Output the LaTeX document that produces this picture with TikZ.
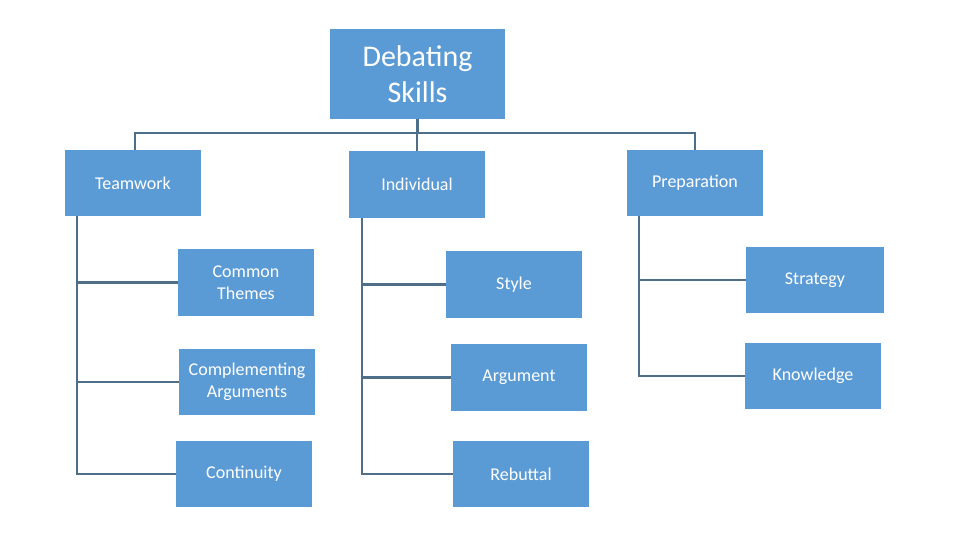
\documentclass[tikz,border=0pt]{standalone}
\usepackage{fontspec}
\setmainfont{Carlito}
\begin{document}
\begin{tikzpicture}[x=1pt,y=-1pt,
 box/.style={fill=boxc,draw=none,text=white,font=\fontsize{18}{22}\selectfont,align=center,inner sep=0pt},
 ln/.style={draw=linec,line width=2.6pt}]
\definecolor{boxc}{HTML}{5B9BD5}
\definecolor{linec}{HTML}{4F6F88}
\useasboundingbox (0,0) rectangle (960,540);
\fill[white] (0,0) rectangle (960,540);
\newcommand{\bx}[6]{\node[box,minimum width=#3-#2,minimum height=#5-#4] (#1) at ({(#2+#3)/2},{(#4+#5)/2}) {#6};}
\begin{scope}[box/.append style={}]
\node[box,minimum width=175,minimum height=90,font=\fontsize{30}{36}\selectfont] (ds) at (417.5,74) {Debating\\Skills};
\end{scope}
\bx{tw}{65}{201}{150}{216}{Teamwork}
\bx{iv}{349}{485}{151}{218}{Individual}
\bx{pr}{627}{763}{150}{216}{Preparation}
\bx{ct}{178}{314}{249}{316}{Common\\Themes}
\bx{ca}{179}{315}{349}{415}{Complementing\\Arguments}
\bx{co}{176}{312}{441}{507}{Continuity}
\bx{st}{446}{582}{251}{318}{Style}
\bx{ar}{451}{587}{344}{411}{Argument}
\bx{re}{453}{589}{441}{507}{Rebuttal}
\bx{sg}{746}{884}{247}{313}{Strategy}
\bx{kn}{745}{881}{343}{409}{Knowledge}
\coordinate (h) at (417.5,133);
\draw[ln] (ds.south) -- (h);
\draw[ln] (tw.north -| 135,0) |- (h) -| (iv.north);
\draw[ln] (h) -| (pr.north);
\draw[ln] ([xshift=12]tw.south west) |- (co.west);
\draw[ln] ([xshift=12]tw.south west) |- (ct.west);
\draw[ln] ([xshift=12]tw.south west) |- (ca.west);
\draw[ln] ([xshift=13]iv.south west) |- (re.west);
\draw[ln] ([xshift=13]iv.south west) |- (st.west);
\draw[ln] ([xshift=13]iv.south west) |- (ar.west);
\draw[ln] ([xshift=12]pr.south west) |- (kn.west);
\draw[ln] ([xshift=12]pr.south west) |- (sg.west);
\end{tikzpicture}
\end{document}
